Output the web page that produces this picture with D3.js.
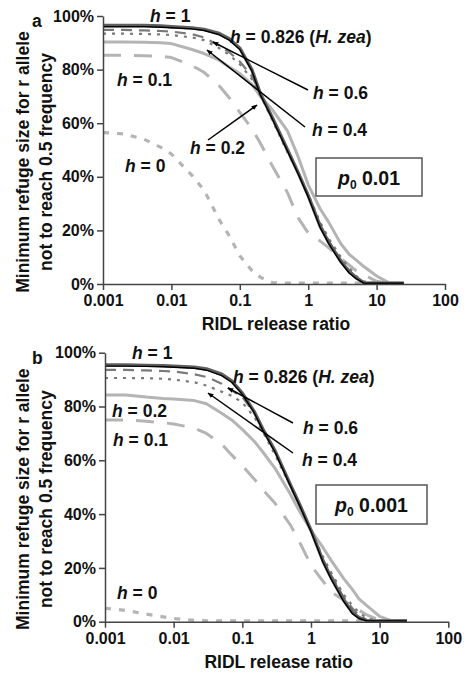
<!DOCTYPE html>
<html>
<head>
<meta charset="utf-8">
<script src="https://cdn.jsdelivr.net/npm/d3@7"></script>
<style>
body { margin: 0; background: #fff; }
svg { display: block; font-family: "Liberation Sans", Arial, sans-serif; font-weight: bold; }
</style>
</head>
<body>
<svg id="chart" width="467" height="678"></svg>
<script>
// RIDL release ratio (x) shared by every curve
var ratios = [0.001, 0.002, 0.004, 0.007, 0.01, 0.02, 0.03, 0.05, 0.07, 0.1, 0.15, 0.2, 0.3,
              0.5, 0.7, 1, 1.5, 2, 3, 4, 5, 6.5, 10, 15, 25];
var xTicks = [0.001, 0.01, 0.1, 1, 10, 100];
var yTicks = [0, 20, 40, 60, 80, 100];

// minimum refuge size (%) -- panel a, p0 = 0.01
var h1A   = [96.5, 96.5, 96.5, 96.3, 96, 95.5, 95, 93.5, 91.5, 88, 80, 71, 62, 50, 42, 33, 21.5, 15.5, 8.5, 4.5, 2.5, 0.4, 0.3, 0.3, 0.3];
var h826A = [96, 96, 96, 95.8, 95.6, 95.2, 94.6, 93, 91, 87.5, 79.5, 70.5, 61.5, 49.5, 41.5, 32.5, 21, 15, 8, 4, 2, 0.3, 0.3, 0.3, 0.3];
var h06A  = [94.8, 94.8, 94.6, 94.4, 94.2, 93.2, 92, 89, 86.5, 83, 77.5, 71, 61.5, 49.5, 42, 33, 22, 16, 9, 5, 2.5, 0.5, 0.3, 0.3, 0.3];
var h04A  = [93.4, 93.4, 93.3, 93.1, 92.9, 92, 91, 88, 85.5, 82, 76.5, 70.5, 61, 49, 42, 33.5, 23, 17, 10, 6, 3, 1, 0.3, 0.3, 0.3];
var h02A  = [90.3, 90.3, 90.2, 90, 89.7, 87.5, 86, 83.5, 81, 78.5, 74.5, 70, 65, 57, 48, 37, 28, 23, 15, 11, 9, 6.5, 3, 0.5, 0.3];
var h01A  = [85.4, 85.4, 85.2, 85, 84.5, 81.5, 79, 74, 69.5, 64, 58, 52.5, 44, 34, 25, 19, 16, 13.5, 9.5, 7, 5, 3.5, 1, 0.3, 0.3];
var h0A   = [56.5, 56, 54, 51, 48.5, 40.5, 35, 24, 18, 10.5, 5, 2.5, 0.5, 0.3, 0.3, 0.3, 0.3, 0.3, 0.3, 0.3, 0.3, 0.3, 0.3, null, null];

// panel b, p0 = 0.001
var h1B   = [95.4, 95.4, 95.3, 95.2, 95, 94.6, 94, 92, 89.5, 85, 78, 71.5, 63.5, 51, 43, 34, 22.5, 16, 8, 3.5, 1.5, 0.4, 0.3, 0.3, 0.3];
var h826B = [95, 95, 94.9, 94.8, 94.6, 94.2, 93.5, 91.5, 89, 84.5, 77.5, 71, 63, 50.5, 42.5, 33.5, 22, 15.5, 7.5, 3, 1.2, 0.3, 0.3, 0.3, 0.3];
var h06B  = [93.6, 93.6, 93.4, 93.2, 93, 92, 91, 88.5, 86, 83.5, 77.5, 71.5, 63, 51, 43, 34, 23, 17, 9, 5, 2.5, 0.6, 0.3, 0.3, 0.3];
var h04B  = [90.6, 90.6, 90.5, 90.3, 90, 89, 87.8, 85.5, 84, 81.5, 76, 70.5, 62, 50.5, 42.5, 34, 24, 18, 10, 6, 3.5, 1.2, 0.3, 0.3, 0.3];
var h02B  = [84.3, 84.3, 83.5, 83, 82.8, 82.2, 81, 77.5, 75, 71.5, 67, 63, 57, 47.5, 40.5, 34, 27.5, 22.5, 16, 12, 8.5, 6, 2, 0.3, 0.3];
var h01B  = [75, 75, 74.5, 74, 73.5, 72, 70, 66, 62, 58, 53, 49, 44, 36, 29, 21, 15, 11, 8, 5.5, 4.3, 2.5, 0.5, 0.3, 0.3];
var h0B   = [5, 4.2, 2.8, 1.8, 1.2, 0.5, 0.3, 0.3, 0.3, 0.3, 0.3, 0.3, 0.3, 0.3, 0.3, 0.3, 0.3, 0.3, 0.3, 0.3, 0.3, 0.3, 0.3, null, null];

// line styles, drawn back to front
var styles = {
    h0:   { stroke: '#b4b4b4', width: 3.2, dash: '6,8' },
    h01:  { stroke: '#b4b4b4', width: 3,   dash: '18,13' },
    h02:  { stroke: '#b4b4b4', width: 3,   dash: null },
    h04:  { stroke: '#7a7a7a', width: 2.2, dash: '3,6' },
    h06:  { stroke: '#7a7a7a', width: 2.2, dash: '11,7' },
    h1:   { stroke: '#5e5e5e', width: 3.4, dash: null },
    h826: { stroke: '#000',    width: 1.4, dash: null }
};

var panels = [
    {
        tag: 'a', x0: 103, x1: 445, yTop: 16, yBot: 284,
        series: { h0: h0A, h01: h01A, h02: h02A, h04: h04A, h06: h06A, h1: h1A, h826: h826A },
        labels: [['1', 150, 22], ['0.826', 230, 43], ['0.6', 313, 99], ['0.4', 312, 136],
                 ['0.2', 190, 154], ['0.1', 117, 86], ['0', 125, 172]],
        arrows: [[308, 90, 213, 42], [305, 127, 207, 50], [208, 140, 257, 105]],
        box: [316, 158, 106, 38], p0: '0.01'
    },
    {
        tag: 'b', x0: 105, x1: 448.3, yTop: 352.7, yBot: 621.7,
        series: { h0: h0B, h01: h01B, h02: h02B, h04: h04B, h06: h06B, h1: h1B, h826: h826B },
        labels: [['1', 132, 359], ['0.826', 233, 383], ['0.6', 303, 434], ['0.4', 302, 466],
                 ['0.2', 112, 417], ['0.1', 113, 446], ['0', 117, 599]],
        arrows: [[293, 423, 228, 388], [293, 453, 208, 393]],
        box: [316, 485, 111, 39], p0: '0.001'
    }
];

var svg = d3.select('#chart');

svg.append('defs').append('marker')
    .attr('id', 'arrow')
    .attr('viewBox', '0 0 10 10')
    .attr('refX', 9).attr('refY', 5)
    .attr('markerWidth', 6).attr('markerHeight', 6)
    .attr('markerUnits', 'userSpaceOnUse')
    .attr('orient', 'auto')
    .append('path').attr('d', 'M0,1 L10,5 L0,9 Z').attr('fill', '#000');

panels.forEach(function(p) {
    var x = d3.scaleLog().domain([0.001, 100]).range([p.x0, p.x1]);
    var y = d3.scaleLinear().domain([0, 100]).range([p.yBot, p.yTop]);

    var line = d3.line()
        .defined(function(d) { return d[1] != null; })
        .x(function(d) { return x(d[0]); })
        .y(function(d) { return y(d[1]); });

    // curves
    Object.keys(styles).forEach(function(key) {
        var vals = p.series[key];
        var pts = ratios.map(function(r, i) { return [r, vals[i]]; });
        var s = styles[key];
        svg.append('path')
            .datum(pts)
            .attr('d', line)
            .attr('fill', 'none')
            .attr('stroke', s.stroke)
            .attr('stroke-width', s.width)
            .attr('stroke-dasharray', s.dash)
            .attr('stroke-linejoin', 'round');
    });

    // axes
    var xAxis = svg.append('g')
        .attr('transform', 'translate(0,' + p.yBot + ')')
        .call(d3.axisBottom(x).tickValues(xTicks).tickFormat(d3.format('~g'))
            .tickSize(6).tickSizeOuter(0).tickPadding(5));
    var yAxis = svg.append('g')
        .attr('transform', 'translate(' + p.x0 + ',0)')
        .call(d3.axisLeft(y).tickValues(yTicks).tickFormat(function(d) { return d + '%'; })
            .tickSize(6).tickSizeOuter(0).tickPadding(3));
    [xAxis, yAxis].forEach(function(g) {
        g.selectAll('path, line').attr('stroke', '#444').attr('stroke-width', 1.5);
        g.selectAll('text').attr('fill', '#111')
            .style('font-size', '16px').style('font-weight', 'bold')
            .style('font-family', '"Liberation Sans", Arial, sans-serif');
    });

    // axis titles
    svg.append('text')
        .attr('x', (p.x0 + p.x1) / 2 + 2).attr('y', p.yBot + 46)
        .attr('text-anchor', 'middle').attr('font-size', 17.5).attr('fill', '#111')
        .text('RIDL release ratio');
    var cy = (p.yTop + p.yBot) / 2 + 12;
    svg.append('text')
        .attr('transform', 'translate(29,' + cy + ') rotate(-90)')
        .attr('text-anchor', 'middle').attr('font-size', 17.5).attr('fill', '#111')
        .text('Minimum refuge size for r allele');
    svg.append('text')
        .attr('transform', 'translate(52,' + cy + ') rotate(-90)')
        .attr('text-anchor', 'middle').attr('font-size', 17.5).attr('fill', '#111')
        .text('not to reach 0.5 frequency');

    svg.append('text')
        .attr('x', 32).attr('y', p.yTop + 11)
        .attr('font-size', 17.5).attr('fill', '#111')
        .text(p.tag);

    // h labels
    p.labels.forEach(function(l) {
        var t = svg.append('text').attr('x', l[1]).attr('y', l[2])
            .attr('font-size', 17.5).attr('fill', '#111');
        t.append('tspan').attr('font-style', 'italic').text('h');
        t.append('tspan').text(' = ' + l[0]);
        if (l[0] === '0.826') {
            t.append('tspan').text(' (');
            t.append('tspan').attr('font-style', 'italic').text('H. zea');
            t.append('tspan').text(')');
        }
    });

    // arrows
    p.arrows.forEach(function(a) {
        svg.append('line')
            .attr('x1', a[0]).attr('y1', a[1]).attr('x2', a[2]).attr('y2', a[3])
            .attr('stroke', '#000').attr('stroke-width', 1.5)
            .attr('marker-end', 'url(#arrow)');
    });

    // p0 box
    svg.append('rect')
        .attr('x', p.box[0]).attr('y', p.box[1])
        .attr('width', p.box[2]).attr('height', p.box[3])
        .attr('fill', '#fff').attr('stroke', '#555').attr('stroke-width', 1.5);
    var bt = svg.append('text')
        .attr('x', p.box[0] + p.box[2] / 2).attr('y', p.box[1] + 27)
        .attr('text-anchor', 'middle').attr('font-size', 19.5).attr('fill', '#111');
    bt.append('tspan').attr('font-style', 'italic').text('p');
    bt.append('tspan').attr('font-size', 12).attr('dy', 4).text('0');
    bt.append('tspan').attr('dy', -4).text(' ' + p.p0);
});
</script>
</body>
</html>
